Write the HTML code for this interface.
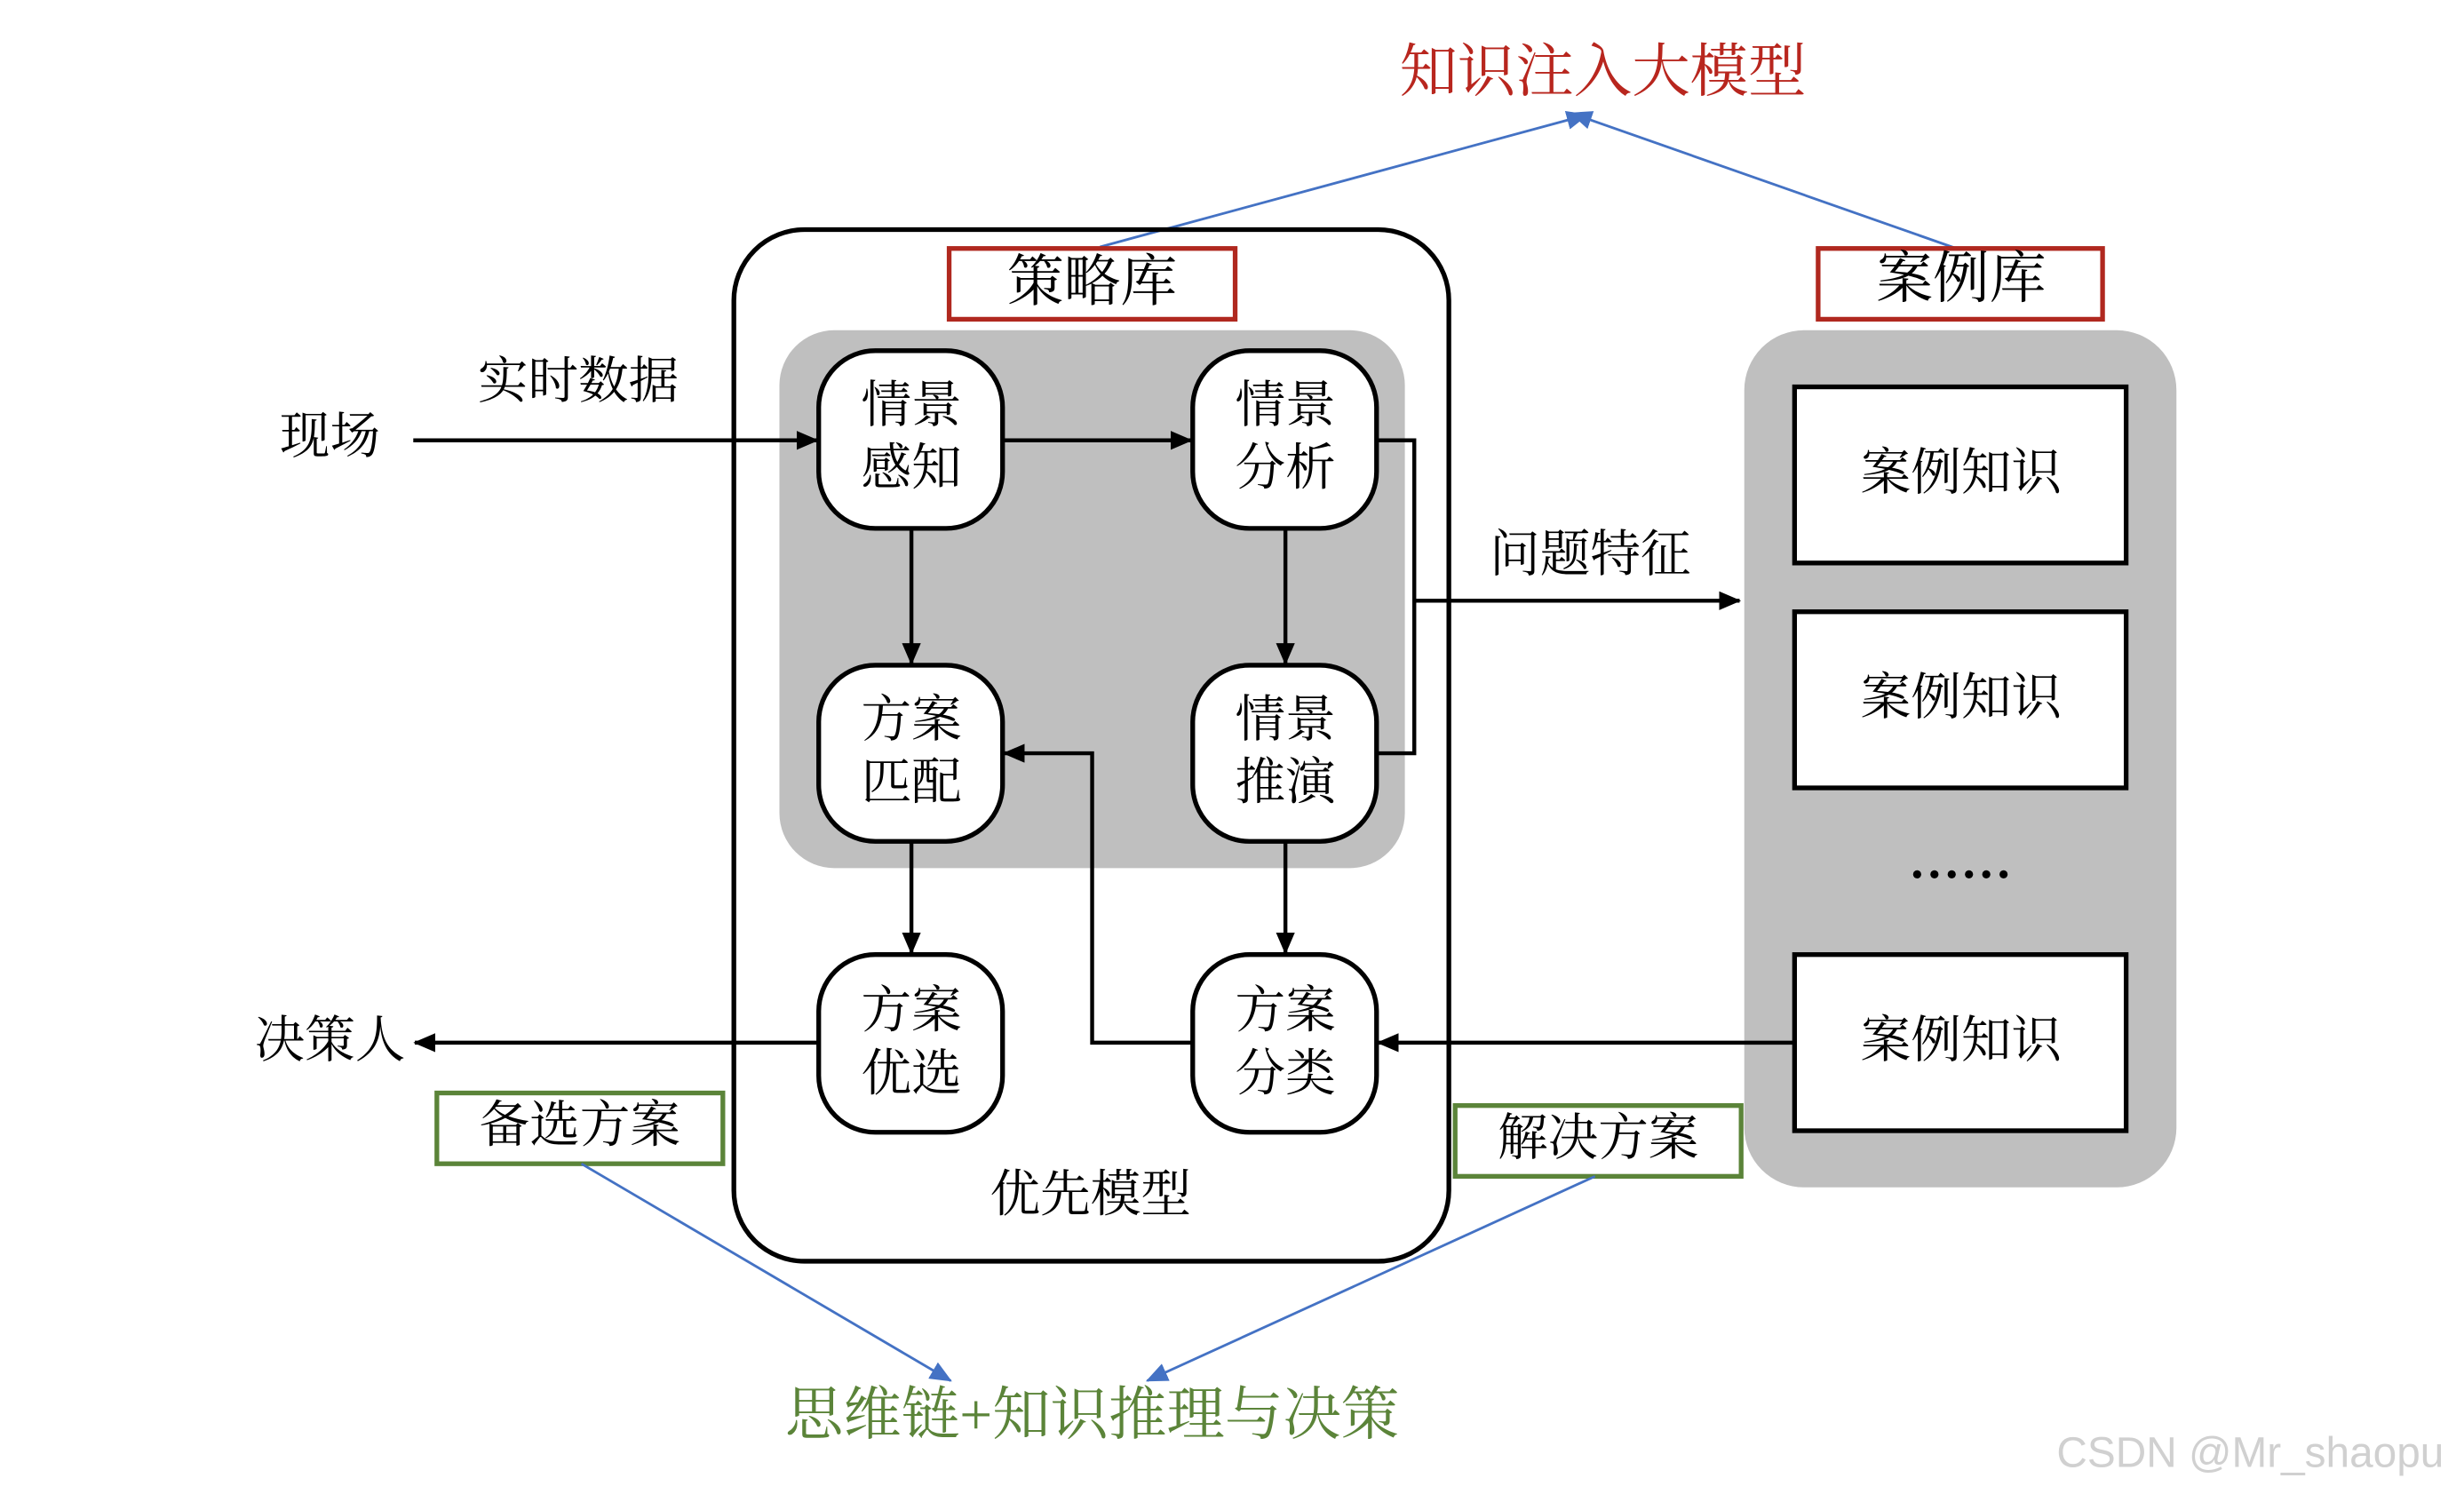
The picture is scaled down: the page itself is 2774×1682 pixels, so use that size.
<!DOCTYPE html>
<html><head><meta charset="utf-8"><style>
html,body{margin:0;padding:0;background:#fff}
svg{display:block}
text{font-family:"Liberation Serif","Noto Serif CJK SC",serif;text-anchor:middle;dominant-baseline:central}
</style></head><body>
<svg width="2774" height="1682" viewBox="0 0 1568 950" preserveAspectRatio="none" xmlns="http://www.w3.org/2000/svg">
<defs>
<marker id="ab" markerWidth="10" markerHeight="10" refX="9" refY="5" orient="auto" markerUnits="userSpaceOnUse"><path d="M0,0 L10,5 L0,10 z" fill="#000"/></marker>
<marker id="ab2" markerWidth="14" markerHeight="12" refX="13" refY="6" orient="auto" markerUnits="userSpaceOnUse"><path d="M0,0 L14,6 L0,12 z" fill="#000"/></marker>
<marker id="bb" markerWidth="14" markerHeight="12" refX="13" refY="6" orient="auto" markerUnits="userSpaceOnUse"><path d="M0,0 L14,6 L0,12 z" fill="#4472c4"/></marker>
</defs>

<!-- top title -->
<text x="1020" y="46" font-size="37" fill="#b8261e">知识注入大模型</text>
<line x1="700" y1="157" x2="1010" y2="73" stroke="#4472c4" stroke-width="1.6" marker-end="url(#bb)"/>
<line x1="1245" y1="158" x2="1000" y2="72" stroke="#4472c4" stroke-width="1.6" marker-end="url(#bb)"/>

<!-- outer box -->
<rect x="467" y="146" width="455" height="656" rx="45" fill="none" stroke="#000" stroke-width="3"/>
<rect x="496" y="210" width="398" height="342" rx="35" fill="#bfbfbf"/>
<rect x="604" y="158" width="182" height="45" fill="#fff" stroke="#b0281f" stroke-width="3"/>
<text x="695" y="179" font-size="36">策略库</text>

<!-- case library -->
<rect x="1110" y="210" width="275" height="545" rx="38" fill="#bfbfbf"/>
<rect x="1157" y="158" width="181" height="45" fill="#fff" stroke="#b0281f" stroke-width="3"/>
<text x="1248" y="177" font-size="36">案例库</text>
<g stroke="#000" stroke-width="3" fill="#fff">
<rect x="1142" y="246" width="211" height="112"/>
<rect x="1142" y="389" width="211" height="112"/>
<rect x="1142" y="607" width="211" height="112"/>
</g>
<g font-size="32">
<text x="1248" y="301">案例知识</text>
<text x="1248" y="444">案例知识</text>
<text x="1248" y="662">案例知识</text>
</g>
<g fill="#000"><circle cx="1220" cy="556" r="2.6"/><circle cx="1231" cy="556" r="2.6"/><circle cx="1242" cy="556" r="2.6"/><circle cx="1253" cy="556" r="2.6"/><circle cx="1264" cy="556" r="2.6"/><circle cx="1275" cy="556" r="2.6"/></g>

<!-- connectors -->
<g stroke="#000" stroke-width="2.5" fill="none">
<line x1="263" y1="280" x2="520" y2="280" marker-end="url(#ab2)"/>
<line x1="638" y1="280" x2="758" y2="280" marker-end="url(#ab2)"/>
<line x1="580" y1="336" x2="580" y2="422" marker-end="url(#ab2)"/>
<line x1="818" y1="336" x2="818" y2="422" marker-end="url(#ab2)"/>
<polyline points="876,280 900,280 900,479 876,479"/>
<line x1="900" y1="382" x2="1107" y2="382" marker-end="url(#ab2)"/>
<line x1="580" y1="535" x2="580" y2="606" marker-end="url(#ab2)"/>
<line x1="818" y1="535" x2="818" y2="606" marker-end="url(#ab2)"/>
<polyline points="759,663 695,663 695,479 639,479" marker-end="url(#ab2)"/>
<line x1="521" y1="663" x2="264" y2="663" marker-end="url(#ab2)"/>
<line x1="1142" y1="663" x2="877" y2="663" marker-end="url(#ab2)"/>
</g>

<!-- nodes -->
<g stroke="#000" stroke-width="3" fill="#fff">
<rect x="521" y="223" width="117" height="113" rx="36"/>
<rect x="759" y="223" width="117" height="113" rx="36"/>
<rect x="521" y="423" width="117" height="112" rx="36"/>
<rect x="759" y="423" width="117" height="112" rx="36"/>
<rect x="521" y="607" width="117" height="113" rx="36"/>
<rect x="759" y="607" width="117" height="113" rx="36"/>
</g>
<g font-size="32">
<text x="580" y="258">情景</text><text x="580" y="298">感知</text>
<text x="818" y="258">情景</text><text x="818" y="298">分析</text>
<text x="580" y="458">方案</text><text x="580" y="498">匹配</text>
<text x="818" y="458">情景</text><text x="818" y="498">推演</text>
<text x="580" y="643">方案</text><text x="580" y="683">优选</text>
<text x="818" y="643">方案</text><text x="818" y="683">分类</text>
<text x="210" y="278">现场</text>
<text x="368" y="243">实时数据</text>
<text x="1012" y="353">问题特征</text>
<text x="210" y="662">决策人</text>
<text x="694" y="760">优先模型</text>
</g>

<!-- green boxes -->
<rect x="278" y="695" width="182" height="45" fill="#fff" stroke="#5b8439" stroke-width="3"/>
<text x="369" y="716" font-size="32">备选方案</text>
<rect x="926" y="703" width="182" height="45" fill="#fff" stroke="#5b8439" stroke-width="3"/>
<text x="1017" y="724" font-size="32">解决方案</text>
<line x1="370" y1="740" x2="605" y2="878" stroke="#4472c4" stroke-width="1.6" marker-end="url(#bb)"/>
<line x1="1015" y1="748" x2="730" y2="878" stroke="#4472c4" stroke-width="1.6" marker-end="url(#bb)"/>
<text x="695" y="900" font-size="37" fill="#5b8439">思维链+知识推理与决策</text>

<text x="1432" y="924" font-size="27" fill="#d0d0d0" style="font-family:'Liberation Sans',sans-serif">CSDN @Mr_shaopu</text>
</svg>
</body></html>
